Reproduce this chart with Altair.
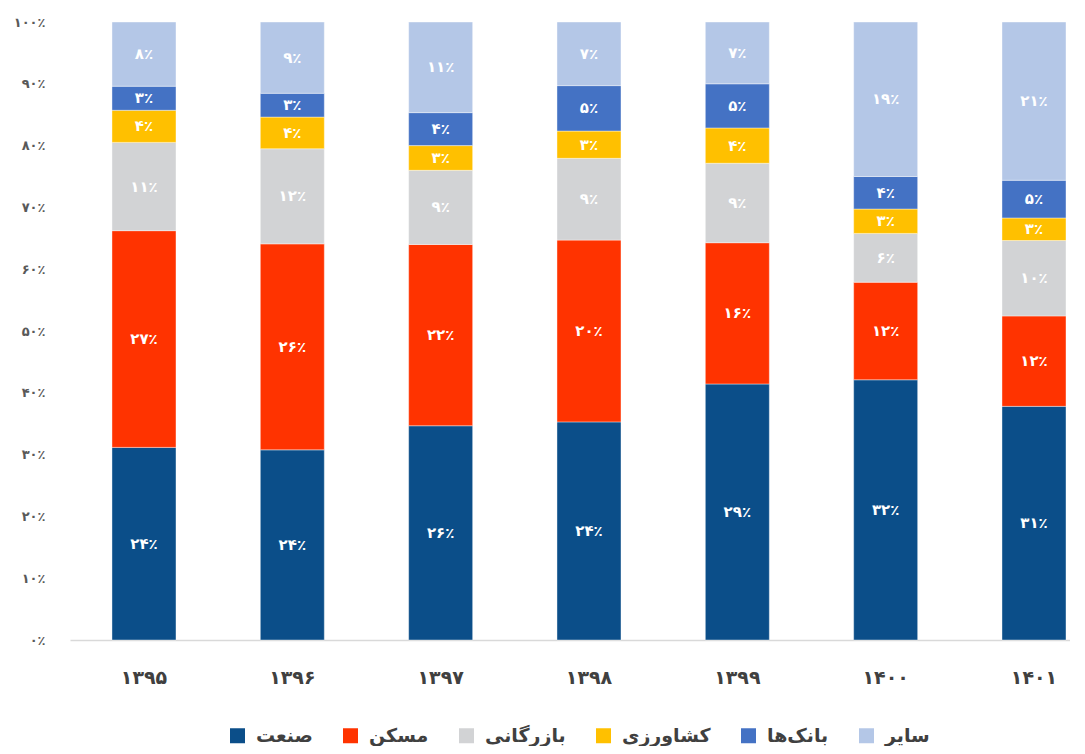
import json
import altair as alt
import pandas as pd

years = ["۱۳۹۵", "۱۳۹۶", "۱۳۹۷", "۱۳۹۸", "۱۳۹۹", "۱۴۰۰", "۱۴۰۱"]
sectors = ["صنعت", "مسکن", "بازرگانی", "کشاورزی", "بانک‌ها", "سایر"]
colors = ["#0B4E89", "#FF3300", "#D2D3D5", "#FFC000", "#4472C4", "#B4C7E7"]

industry = [24, 24, 26, 24, 29, 32, 31]
housing = [27, 26, 22, 20, 16, 12, 12]
commerce = [11, 12, 9, 9, 9, 6, 10]
agriculture = [4, 4, 3, 3, 4, 3, 3]
banks = [3, 3, 4, 5, 5, 4, 5]
other = [8, 9, 11, 7, 7, 19, 21]

y_tick_labels = ["۰٪", "۱۰٪", "۲۰٪", "۳۰٪", "۴۰٪", "۵۰٪", "۶۰٪", "۷۰٪", "۸۰٪", "۹۰٪", "۱۰۰٪"]

FA = str.maketrans("0123456789", "۰۱۲۳۴۵۶۷۸۹")

series = [industry, housing, commerce, agriculture, banks, other]
rows = []
for si, (name, vals) in enumerate(zip(sectors, series)):
    for yi, (yr, v) in enumerate(zip(years, vals)):
        rows.append({"year": yr, "sector": name, "order": si, "value": v,
                     "label": str(v).translate(FA) + "٪"})
df = pd.DataFrame(rows)

FONT = "DejaVu Sans"
x_enc = alt.X("year:N", sort=years, title=None,
              scale=alt.Scale(paddingInner=0.5685, paddingOuter=0.155, align=0.913),
              axis=alt.Axis(labelAngle=0, labelFont=FONT, labelFontSize=19, labelFontWeight="bold",
                            labelColor="#404040", labelPadding=28, ticks=False,
                            domainColor="#D9D9D9", domainWidth=1.5))

bars = alt.Chart(df).mark_bar(stroke="#ffffff", strokeWidth=0.8, strokeOpacity=0.5).encode(
    x=x_enc,
    y=alt.Y("value:Q", stack="normalize", title=None,
            scale=alt.Scale(domain=[0, 1], nice=False),
            axis=alt.Axis(values=[i / 10 for i in range(11)],
                          labelExpr=json.dumps(y_tick_labels, ensure_ascii=False) + "[round(datum.value*10)]",
                          labelFont=FONT, labelFontSize=13, labelFontWeight="bold", labelColor="#595959",
                          labelPadding=25, ticks=False, domain=False, grid=False)),
    color=alt.Color("sector:N", sort=sectors,
                    scale=alt.Scale(domain=sectors, range=colors),
                    legend=alt.Legend(title=None, orient="none", direction="horizontal",
                                      legendX=158, legendY=704,
                                      symbolType="square", symbolSize=225, symbolStrokeWidth=0,
                                      symbolOpacity=1,
                                      labelFont=FONT, labelFontSize=19, labelFontWeight="bold",
                                      labelColor="#404040", columnPadding=28, labelOffset=9)),
    order=alt.Order("order:Q", sort="ascending"),
)

texts = alt.Chart(df).transform_joinaggregate(
    total="sum(value)", groupby=["year"]
).transform_window(
    cum="sum(value)", sort=[alt.SortField("order", order="ascending")],
    groupby=["year"], frame=[None, 0]
).transform_calculate(
    mid="(datum.cum - datum.value/2)/datum.total"
).mark_text(font=FONT, fontSize=15, fontWeight="bold", color="white", baseline="middle").encode(
    x=alt.X("year:N", sort=years),
    y=alt.Y("mid:Q", scale=alt.Scale(domain=[0, 1], nice=False)),
    text="label:N",
)

chart = alt.layer(bars, texts).properties(
    width=1000, height=618,
    autosize=alt.AutoSizeParams(type="none"),
    padding={"left": 62, "top": 14, "right": 0, "bottom": 106},
).configure_view(stroke=None).configure_axis(grid=False)

chart.save("out.html", embed_options={"renderer": "svg", "actions": False})
